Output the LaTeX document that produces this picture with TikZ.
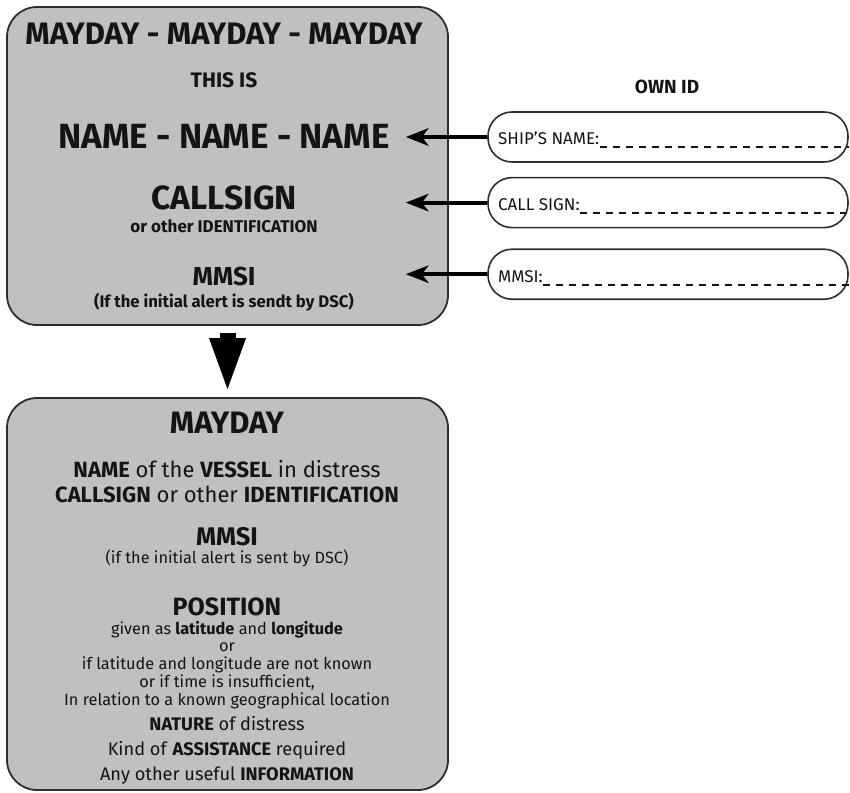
\documentclass[tikz,border=0pt]{standalone}
\usepackage{fontspec}
\setmainfont{Fira Sans}
\usepackage{xcolor}
\usetikzlibrary{positioning,arrows.meta}
\definecolor{cPanel}{HTML}{C0C0C0}
\definecolor{cEdge}{HTML}{2E2E2E}
\definecolor{cInk}{HTML}{141414}
\newcommand{\fs}[1]{\fontsize{#1}{#1}\selectfont}
\tikzset{
  panel/.style={draw=cEdge, line width=1.8pt, fill=cPanel, rounded corners=30pt,
                minimum width=441pt},
  pill/.style={draw=cEdge, line width=1.6pt, fill=white, rounded corners=24pt,
               minimum width=360pt, minimum height=50pt},
  txt/.style={anchor=base, text=cInk, inner sep=0pt, font=\bfseries},
  lbl/.style={anchor=base west, text=cInk, inner sep=0pt, font=\fs{17}},
  ar/.style={-{Stealth[length=23pt,width=18pt,inset=7pt,line width=0pt]}, line width=4pt, black},
  bigar/.style={-{Triangle[length=51pt,width=37pt,line width=0pt]}, line width=16pt, black},
  fillin/.style={draw=cInk, line width=1.2pt, dash pattern=on 7pt off 6pt}
}
\begin{document}
\begin{tikzpicture}[x=1pt,y=-1pt]
\useasboundingbox (0,0) rectangle (850,792);
% call panel
\node[panel, minimum height=318pt] (top) at (227.5,166) {};
\node[txt, font=\bfseries\fs{31}] (hdr) at (224,45) {MAYDAY - MAYDAY - MAYDAY};
\node[txt, font=\bfseries\fs{21}] (this) at (224,87) {THIS IS};
\node[txt, font=\bfseries\fs{35}] (names) at (224,148) {NAME - NAME - NAME};
\node[txt, font=\bfseries\fs{33.5}] (csign) at (224,209) {CALLSIGN};
\node[txt, font=\bfseries\fs{17}] (csub) at (224,232) {or other IDENTIFICATION};
\node[txt, font=\bfseries\fs{26}] (mm) at (224,285) {MMSI};
\node[txt, font=\bfseries\fs{16.7}] (mmsub) at (224,307) {(If the initial alert is sendt by DSC)};
% own id
\node[txt, font=\bfseries\fs{19}] (ownid) at (667,93) {OWN ID};
\node[pill] (ship) at (668,137) {};
\node[pill, below=14pt of ship] (call) {};
\node[pill, below=20pt of call] (mmsi) {};
\node[lbl] (shiplbl) at (498,144) {SHIP’S NAME:};
\node[lbl] (calllbl) at (498,210) {CALL SIGN:};
\node[lbl] (mmsilbl) at (498,282) {MMSI:};
\draw[fillin] ([yshift=-3pt]shiplbl.base east) -- ([yshift=-3pt]shiplbl.base east -| ship.east);
\draw[fillin] ([yshift=-3pt]calllbl.base east) -- ([yshift=-3pt]calllbl.base east -| call.east);
\draw[fillin] ([yshift=-3pt]mmsilbl.base east) -- ([yshift=-3pt]mmsilbl.base east -| mmsi.east);
\draw[ar, shorten >=-43pt] (ship.west) -- (ship.west -| top.east);
\draw[ar, shorten >=-43pt] (call.west) -- (call.west -| top.east);
\draw[ar, shorten >=-43pt] (mmsi.west) -- (mmsi.west -| top.east);
% message panel
\node[panel, minimum height=392pt] (bot) at (227.5,594) {};
\draw[bigar, shorten <=7pt, shorten >=8pt] (top.south) -- (bot.north);
\node[txt, font=\bfseries\fs{31}] (m2) at (227,433) {MAYDAY};
\node[txt, font=\fs{22}] (vessel) at (227,477) {\textbf{NAME} of the \textbf{VESSEL} in distress};
\node[txt, font=\fs{22}] (ident) at (227,502) {\textbf{CALLSIGN} or other \textbf{IDENTIFICATION}};
\node[txt, font=\bfseries\fs{25.5}] (mm2) at (227,545) {MMSI};
\node[txt, font=\fs{16.3}] (mm2sub) at (227,563) {(if the initial alert is sent by DSC)};
\node[txt, font=\bfseries\fs{25}] (pos) at (227,615) {POSITION};
\node[txt, font=\fs{16.3}] (p1) at (227,634) {given as \textbf{latitude} and \textbf{longitude}};
\node[txt, font=\fs{16.3}] (p2) at (227,651) {or};
\node[txt, font=\fs{16.3}] (p3) at (227,669) {if latitude and longitude are not known};
\node[txt, font=\fs{16.3}] (p4) at (227,687) {or if time is insufficient,};
\node[txt, font=\fs{16.3}] (p5) at (227,705) {In relation to a known geographical location};
\node[txt, font=\fs{18.2}] (nat) at (227,730) {\textbf{NATURE} of distress};
\node[txt, font=\fs{18.2}] (asst) at (227,755) {Kind of \textbf{ASSISTANCE} required};
\node[txt, font=\fs{18.2}] (info) at (227,780) {Any other useful \textbf{INFORMATION}};
\end{tikzpicture}
\end{document}
